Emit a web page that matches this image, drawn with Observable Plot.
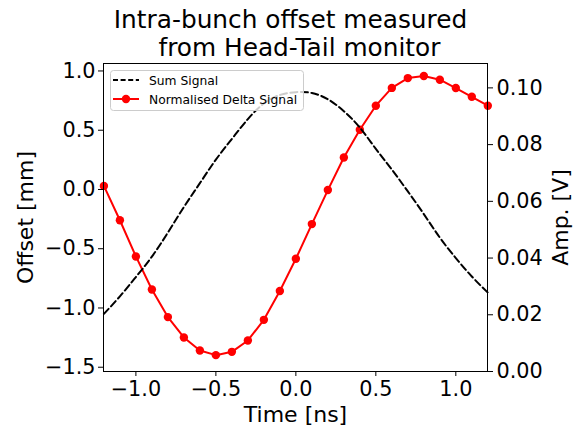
<!DOCTYPE html>
<html>
<head>
<meta charset="utf-8">
<script src="https://cdn.jsdelivr.net/npm/d3@7"></script>
<script src="https://cdn.jsdelivr.net/npm/@observablehq/plot@0.6"></script>
<style>
  html, body { margin: 0; padding: 0; background: #fff; }
  #wrap { position: relative; width: 574px; height: 426px; font-family: "DejaVu Sans", sans-serif; }
  #legend { position: absolute; left: 0; top: 0; pointer-events: none; }
</style>
</head>
<body>
<div id="wrap"></div>
<script>
// ---- data ----
const time = [-1.2,-1.1,-1.0,-0.9,-0.8,-0.7,-0.6,-0.5,-0.4,-0.3,-0.2,-0.1,0.0,0.1,0.2,0.3,0.4,0.5,0.6,0.7,0.8,0.9,1.0,1.1,1.2];
const deltaOffset = [0.03,-0.26,-0.565,-0.844,-1.077,-1.249,-1.359,-1.398,-1.37,-1.274,-1.10,-0.857,-0.585,-0.292,-0.005,0.27,0.504,0.707,0.857,0.94,0.957,0.926,0.856,0.782,0.707];
const sumSignal = [0.0203,0.0265,0.0333,0.0405,0.049,0.058,0.0664,0.0747,0.082,0.089,0.0945,0.0975,0.0985,0.0982,0.096,0.0918,0.086,0.0785,0.0712,0.0635,0.0555,0.0472,0.040,0.0335,0.0278];
const timeTicks = [-1.0,-0.5,0.0,0.5,1.0];
const offsetTicks = [-1.5,-1.0,-0.5,0.0,0.5,1.0];
const ampTicks = [0.00,0.02,0.04,0.06,0.08,0.10];
const titleLines = ["Intra-bunch offset measured", " from Head-Tail monitor"];

// ---- scales ----
const xDomain = [-1.2025, 1.198];
const yDomain = [-1.536, 1.063];
const ampDomain = [0, 0.1086];
const toY = a => yDomain[0] + (a - ampDomain[0]) / (ampDomain[1] - ampDomain[0]) * (yDomain[1] - yDomain[0]);
const fromY = y => ampDomain[0] + (y - yDomain[0]) / (yDomain[1] - yDomain[0]) * (ampDomain[1] - ampDomain[0]);

const red = time.map((t, i) => ({t, v: deltaOffset[i]}));
const sum = time.map((t, i) => ({t, v: toY(sumSignal[i])}));

const font = "DejaVu Sans";
const tickFs = 20.8, labelFs = 22, titleFs = 24.8;
const chart = Plot.plot({
  width: 574,
  height: 426,
  marginLeft: 103,
  marginRight: 87,
  marginTop: 63,
  marginBottom: 55,
  style: {fontFamily: font, color: "black", background: "white", overflow: "visible"},
  x: {domain: xDomain},
  y: {domain: yDomain},
  marks: [
    Plot.line(red, {x: "t", y: "v", stroke: "#ff0000", strokeWidth: 2}),
    Plot.dot(red, {x: "t", y: "v", r: 4.2, fill: "#ff0000", stroke: "none"}),
    Plot.line(sum, {x: "t", y: "v", stroke: "black", strokeWidth: 2, strokeDasharray: "7,3.5", curve: "natural"}),
    Plot.frame({stroke: "black", strokeWidth: 1}),
    Plot.axisX(timeTicks, {anchor: "bottom", tickSize: 5, tickPadding: 5, fontSize: tickFs, tickFormat: d3.format(".1f"), label: null}),
    Plot.axisY(offsetTicks, {anchor: "left", tickSize: 5, tickPadding: 3, fontSize: tickFs, tickFormat: d3.format(".1f"), label: null}),
    Plot.axisY(ampTicks.map(toY), {anchor: "right", tickSize: 5, tickPadding: 4, fontSize: tickFs, tickFormat: d => d3.format(".2f")(fromY(d)), label: null}),
    Plot.text(["Time [ns]"], {frameAnchor: "bottom", dy: 50, lineAnchor: "bottom", fontSize: labelFs, text: d => d}),
    Plot.text(["Offset [mm]"], {frameAnchor: "left", dx: -78, rotate: -90, textAnchor: "middle", lineAnchor: "middle", fontSize: labelFs, text: d => d}),
    Plot.text(["Amp. [V]"], {frameAnchor: "right", dx: 73, rotate: -90, textAnchor: "middle", lineAnchor: "middle", fontSize: labelFs, text: d => d}),
    Plot.text([titleLines[0]], {frameAnchor: "top", dx: -5, dy: -36, lineAnchor: "bottom", fontSize: titleFs, text: d => d}),
    Plot.text([titleLines[1]], {frameAnchor: "top", dx: 0, dy: -8, lineAnchor: "bottom", fontSize: titleFs, text: d => d, style: "white-space: pre"})
  ]
});
const wrap = document.getElementById("wrap");
wrap.appendChild(chart);

// ---- legend (overlay inside the axes) ----
const ns = "http://www.w3.org/2000/svg";
const leg = document.createElementNS(ns, "svg");
leg.setAttribute("id", "legend");
leg.setAttribute("width", 574);
leg.setAttribute("height", 426);
leg.innerHTML = `
  <rect x="110.5" y="70.5" width="193" height="40" rx="3" ry="3" fill="white" fill-opacity="0.8" stroke="#cccccc" stroke-width="1"/>
  <line x1="113" y1="80" x2="139" y2="80" stroke="black" stroke-width="2" stroke-dasharray="5,2.6"/>
  <text x="149" y="84.5" font-family="DejaVu Sans" font-size="12.3" fill="black">Sum Signal</text>
  <line x1="113" y1="99" x2="139" y2="99" stroke="#ff0000" stroke-width="2"/>
  <circle cx="126" cy="99" r="4.2" fill="#ff0000"/>
  <text x="149" y="103.5" font-family="DejaVu Sans" font-size="12.3" fill="black">Normalised Delta Signal</text>`;
wrap.appendChild(leg);
</script>
</body>
</html>
